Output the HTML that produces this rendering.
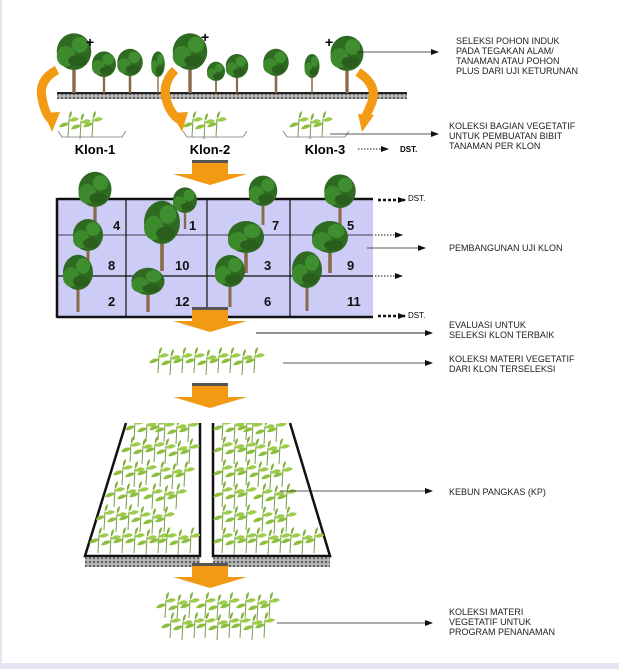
<!DOCTYPE html>
<html><head><style>
html,body{margin:0;padding:0;background:#fff}
svg{display:block}
text{font-family:"Liberation Sans",sans-serif}
.t{font-size:9px;fill:#222}
</style></head><body>
<svg width="619" height="669" viewBox="0 0 619 669" xmlns="http://www.w3.org/2000/svg">
<defs>
<pattern id="hat" width="4" height="4" patternUnits="userSpaceOnUse"><rect width="4" height="4" fill="#bbb"/><circle cx="2" cy="2" r="1.3" fill="#666"/></pattern>
<g id="tree">
<rect x="-1.5" y="-28" width="3" height="28" fill="#8a6a4a"/>
<ellipse cx="0" cy="-36" rx="15" ry="16" fill="#2f6a22"/>
<ellipse cx="-7" cy="-32" rx="8" ry="9" fill="#3d8a2c"/>
<ellipse cx="5" cy="-42" rx="7" ry="7" fill="#3f8e30"/>
<ellipse cx="3" cy="-28" rx="8" ry="5" fill="#2a5e1d"/>
</g>
<g id="sd">
<path d="M0 0 L1 -18" stroke="#7a9a50" stroke-width="1" fill="none"/>
<path d="M1 -14 Q-6 -16 -9 -10 Q-4 -9 1 -13Z" fill="#8cbf3f"/>
<path d="M1 -17 Q7 -22 11 -18 Q6 -14 1 -16Z" fill="#9ccc4a"/>
<path d="M1 -18 Q0 -24 4 -26 Q4 -21 1 -18Z" fill="#7fb23a"/>
</g>
<g id="sdr"><use href="#sd" x="0"/><use href="#sd" x="12" y="2"/><use href="#sd" x="24"/></g>
<marker id="ah" markerUnits="userSpaceOnUse" markerWidth="8" markerHeight="6" refX="7" refY="3" orient="auto"><path d="M0 0 L8 3 L0 6Z" fill="#111"/></marker>
<clipPath id="cl"><path d="M126 423 L85 556 L200 556 L200 423Z"/></clipPath>
<clipPath id="cr"><path d="M213 423 L213 556 L330 556 L290 423Z"/></clipPath>
<g id="oa">
<rect x="-18" y="0" width="36" height="3" fill="#555"/>
<rect x="-18" y="3" width="36" height="12" fill="#f39a14"/>
<path d="M-37 14 L37 14 L0 25Z" fill="#f39a14"/>
</g>
</defs>
<rect x="0" y="0" width="2" height="669" fill="#e6e6f2"/>
<rect x="0" y="663" width="619" height="6" fill="#e6e6f2"/>

<rect x="57" y="92" width="350" height="2" fill="#222"/>
<rect x="57" y="94" width="350" height="5" fill="url(#hat)"/>
<use href="#tree" transform="translate(74,93) scale(1.15)"/>
<use href="#tree" transform="translate(104,93) scale(0.8)"/>
<use href="#tree" transform="translate(130,93) scale(0.85)"/>
<use href="#tree" transform="translate(158,93) scale(0.45,0.8)"/>
<use href="#tree" transform="translate(190,93) scale(1.15)"/>
<use href="#tree" transform="translate(216,93) scale(0.6)"/>
<use href="#tree" transform="translate(237,93) scale(0.75)"/>
<use href="#tree" transform="translate(276,93) scale(0.85)"/>
<use href="#tree" transform="translate(312,93) scale(0.5,0.75)"/>
<use href="#tree" transform="translate(347,93) scale(1.1)"/>
<text x="86" y="47" font-size="14" font-weight="bold">+</text>
<text x="201" y="42" font-size="14" font-weight="bold">+</text>
<text x="325" y="47" font-size="14" font-weight="bold">+</text>
<g fill="none" stroke="#f39a14" stroke-width="9">
<path d="M57 70 Q38 80 42 98 Q45 115 52 120"/>
<path d="M175 70 Q160 85 168 105 Q172 115 180 120"/>
<path d="M358 72 Q378 85 372 102 Q368 112 365 118"/>
</g>
<path d="M44 113 L60 112 L52 132Z" fill="#f39a14"/>
<path d="M172 113 L188 112 L182 132Z" fill="#f39a14"/>
<path d="M358 114 L374 115 L362 132Z" fill="#f39a14"/>
<use href="#sdr" transform="translate(68,137)"/>
<use href="#sdr" transform="translate(192,137)"/>
<use href="#sdr" transform="translate(298,137)"/>
<path d="M58 131 L62 137 L122 137 L126 131 M183 131 L187 137 L243 137 L247 131 M283 131 L287 137 L345 137 L349 131" stroke="#777" fill="none" stroke-width="0.8"/>
<text x="95" y="154" font-size="13" font-weight="bold" text-anchor="middle">Klon-1</text>
<text x="210" y="154" font-size="13" font-weight="bold" text-anchor="middle">Klon-2</text>
<text x="325" y="154" font-size="13" font-weight="bold" text-anchor="middle">Klon-3</text>
<line x1="358" y1="149" x2="388" y2="149" stroke="#222" stroke-dasharray="1.5,1.5" marker-end="url(#ah)"/>
<text x="400" y="152" font-size="8" font-weight="bold">DST.</text>
<line x1="357" y1="52" x2="438" y2="52" stroke="#222" stroke-width="0.8" marker-end="url(#ah)"/>
<text class="t"><tspan x="456" y="44">SELEKSI POHON INDUK</tspan><tspan x="456" y="54">PADA TEGAKAN ALAM/</tspan><tspan x="456" y="64">TANAMAN ATAU POHON</tspan><tspan x="456" y="74">PLUS DARI UJI KETURUNAN</tspan></text>
<line x1="330" y1="134" x2="438" y2="134" stroke="#222" stroke-width="0.8" marker-end="url(#ah)"/>
<text class="t"><tspan x="449" y="129">KOLEKSI BAGIAN VEGETATIF</tspan><tspan x="449" y="139">UNTUK PEMBUATAN BIBIT</tspan><tspan x="449" y="149">TANAMAN PER KLON</tspan></text>

<use href="#oa" transform="translate(210,160)"/>

<rect x="57" y="199" width="316" height="118" fill="#ccccf6"/>
<g stroke="#111" stroke-width="1.2">
<line x1="57" y1="235" x2="373" y2="235" stroke-width="0.8"/><line x1="57" y1="276" x2="373" y2="276"/>
<line x1="126" y1="199" x2="126" y2="317"/><line x1="207" y1="199" x2="207" y2="317"/><line x1="290" y1="199" x2="290" y2="317"/>
</g>
<line x1="57" y1="199" x2="373" y2="199" stroke="#111" stroke-width="2.5"/>
<line x1="57" y1="317" x2="373" y2="317" stroke="#111" stroke-width="2.5"/>
<line x1="57" y1="198" x2="57" y2="318" stroke="#111" stroke-width="2.5"/>
<use href="#tree" transform="translate(95,229) scale(1.1)"/>
<use href="#tree" transform="translate(185,229) scale(0.8)"/>
<use href="#tree" transform="translate(263,225) scale(0.95)"/>
<use href="#tree" transform="translate(340,229) scale(1.05)"/>
<use href="#tree" transform="translate(88,271) scale(1.0)"/>
<use href="#tree" transform="translate(162,271) scale(1.2,1.35)"/>
<use href="#tree" transform="translate(246,273) scale(1.2,1.0)"/>
<use href="#tree" transform="translate(330,273) scale(1.2,1.0)"/>
<use href="#tree" transform="translate(78,312) scale(1.0,1.1)"/>
<use href="#tree" transform="translate(148,312) scale(1.1,0.85)"/>
<use href="#tree" transform="translate(230,307) scale(1.0,1.0)"/>
<use href="#tree" transform="translate(307,311) scale(1.0,1.15)"/>
<g font-size="13" font-weight="bold" fill="#111">
<text x="113" y="230">4</text><text x="189" y="230">1</text><text x="272" y="230">7</text><text x="347" y="230">5</text>
<text x="108" y="270">8</text><text x="175" y="270">10</text><text x="264" y="270">3</text><text x="347" y="270">9</text>
<text x="108" y="306">2</text><text x="175" y="306">12</text><text x="264" y="306">6</text><text x="347" y="306">11</text>
</g>
<line x1="378" y1="200" x2="405" y2="200" stroke="#111" stroke-width="2.5" stroke-dasharray="3,2" marker-end="url(#ah)"/>
<line x1="378" y1="316" x2="405" y2="316" stroke="#111" stroke-width="2.5" stroke-dasharray="3,2" marker-end="url(#ah)"/>
<line x1="375" y1="235" x2="402" y2="235" stroke="#111" stroke-dasharray="1.5,1.5" marker-end="url(#ah)"/>
<line x1="375" y1="276" x2="402" y2="276" stroke="#111" stroke-dasharray="1.5,1.5" marker-end="url(#ah)"/>
<text x="408" y="201" font-size="8">DST.</text>
<text x="408" y="318" font-size="8">DST.</text>
<line x1="367" y1="248" x2="425" y2="248" stroke="#222" stroke-width="0.8" marker-end="url(#ah)"/>
<text class="t" x="449" y="251">PEMBANGUNAN UJI KLON</text>

<use href="#oa" transform="translate(210,307)"/>
<line x1="256" y1="333" x2="432" y2="333" stroke="#222" stroke-width="0.9" marker-end="url(#ah)"/>
<text class="t"><tspan x="449" y="328">EVALUASI UNTUK</tspan><tspan x="449" y="338">SELEKSI KLON TERBAIK</tspan></text>

<use href="#sdr" transform="translate(158,373)"/>
<use href="#sdr" transform="translate(194,373)"/>
<use href="#sdr" transform="translate(230,373)"/>
<line x1="283" y1="363" x2="432" y2="363" stroke="#222" stroke-width="0.8" marker-end="url(#ah)"/>
<text class="t"><tspan x="449" y="362">KOLEKSI MATERI VEGETATIF</tspan><tspan x="449" y="372">DARI KLON TERSELEKSI</tspan></text>

<use href="#oa" transform="translate(210,383)"/>

<path d="M126 423 L85 556 L200 556 L200 423" fill="#fff" stroke="#111" stroke-width="2.5"/>
<path d="M213 423 L213 556 L330 556 L290 423" fill="#fff" stroke="#111" stroke-width="2.5"/>
<rect x="85" y="557" width="115" height="10" fill="url(#hat)"/>
<rect x="213" y="557" width="117" height="10" fill="url(#hat)"/>
<g clip-path="url(#cl)">
<use href="#sdr" transform="translate(134,440)"/><use href="#sdr" transform="translate(164,442)"/>
<use href="#sdr" transform="translate(130,462)"/><use href="#sdr" transform="translate(165,464)"/>
<use href="#sdr" transform="translate(122,485)"/><use href="#sdr" transform="translate(160,487)"/>
<use href="#sdr" transform="translate(114,507)"/><use href="#sdr" transform="translate(152,509)"/>
<use href="#sdr" transform="translate(104,530)"/><use href="#sdr" transform="translate(140,532)"/>
<use href="#sdr" transform="translate(98,553)"/><use href="#sdr" transform="translate(134,553)"/><use href="#sdr" transform="translate(166,553)"/>
</g>
<g clip-path="url(#cr)">
<use href="#sdr" transform="translate(222,440)"/><use href="#sdr" transform="translate(252,442)"/>
<use href="#sdr" transform="translate(222,462)"/><use href="#sdr" transform="translate(255,464)"/>
<use href="#sdr" transform="translate(222,485)"/><use href="#sdr" transform="translate(258,487)"/>
<use href="#sdr" transform="translate(222,507)"/><use href="#sdr" transform="translate(262,509)"/>
<use href="#sdr" transform="translate(222,530)"/><use href="#sdr" transform="translate(262,532)"/>
<use href="#sdr" transform="translate(222,553)"/><use href="#sdr" transform="translate(256,553)"/><use href="#sdr" transform="translate(290,553)"/>
</g>
<line x1="280" y1="491" x2="432" y2="491" stroke="#222" stroke-width="0.8" marker-end="url(#ah)"/>
<text class="t" x="449" y="495">KEBUN PANGKAS (KP)</text>

<use href="#oa" transform="translate(210,563)"/>

<use href="#sdr" transform="translate(165,618)"/><use href="#sdr" transform="translate(205,618)"/><use href="#sdr" transform="translate(245,618)"/>
<use href="#sdr" transform="translate(170,638)"/><use href="#sdr" transform="translate(205,638)"/><use href="#sdr" transform="translate(240,638)"/>
<line x1="277" y1="623" x2="432" y2="623" stroke="#222" stroke-width="0.8" marker-end="url(#ah)"/>
<text class="t"><tspan x="449" y="615">KOLEKSI MATERI</tspan><tspan x="449" y="625">VEGETATIF UNTUK</tspan><tspan x="449" y="635">PROGRAM PENANAMAN</tspan></text>
</svg>
</body></html>
